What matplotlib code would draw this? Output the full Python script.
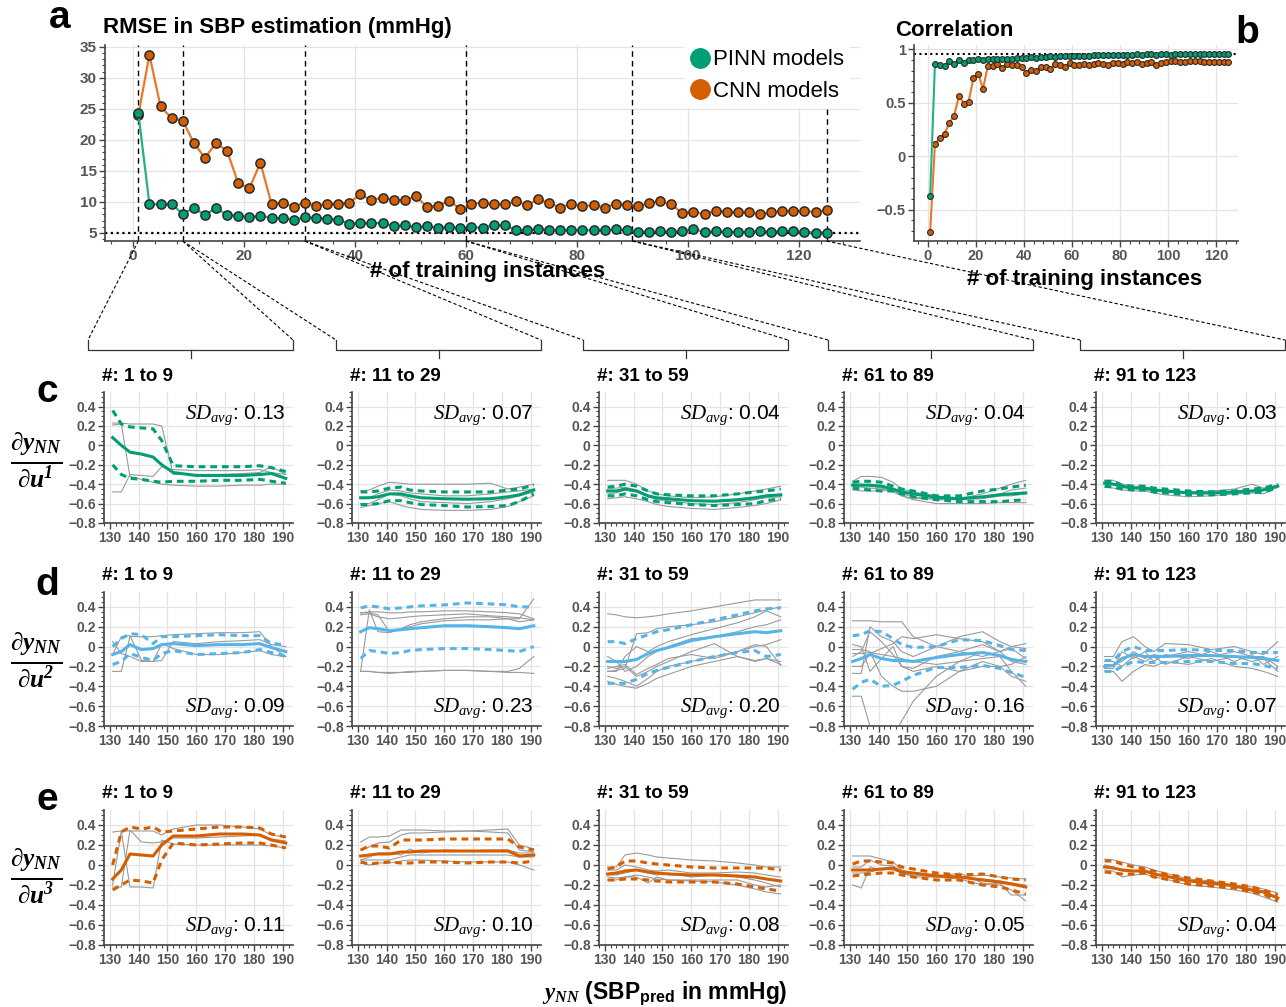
import matplotlib
matplotlib.use("Agg")
import matplotlib.pyplot as plt
import matplotlib.ticker as mticker
from matplotlib.lines import Line2D

plt.rcParams.update({
    "font.family":      ["Liberation Sans", "DejaVu Sans"],
    "mathtext.fontset": "custom",
    "mathtext.rm":      "Liberation Sans",
    "mathtext.it":      "Liberation Serif:italic",
    "mathtext.bf":      "Liberation Sans:bold",
    "mathtext.bfit":    "Liberation Serif:italic:bold",
    "axes.unicode_minus": True})

GREEN  = "#009E73"
ORANGE = "#D55E00"
BLUE   = "#56B4E9"
GRID   = "#e4e4e4"
TICKC  = "#555555"

# ---- panel a / b data (odd numbers of training instances) ----
N_TRAIN = list(range(1, 126, 2))
RMSE_PINN = [24.4, 9.65, 9.6, 9.6, 8.1, 9.0, 7.9, 9.0, 7.9, 7.8, 7.5, 7.8, 7.4, 7.4, 7.1, 7.5,
             7.4, 7.3, 7.1, 6.5, 6.6, 6.6, 6.6, 6.1, 6.2, 5.9, 6.1, 5.8, 6.0, 5.75, 5.9, 5.85,
             6.2, 6.2, 5.5, 5.4, 5.7, 5.4, 5.4, 5.4, 5.5, 5.4, 5.4, 5.6, 5.4, 5.2, 5.15, 5.25,
             5.2, 5.25, 5.6, 5.15, 5.25, 5.15, 5.15, 5.2, 5.25, 5.15, 5.3, 5.3, 5.2, 5.05, 5.05]
RMSE_CNN = [24.0, 33.7, 25.4, 23.5, 23.1, 19.5, 17.1, 19.5, 18.2, 13.0, 12.2, 16.3, 9.65, 9.9, 9.2, 9.9,
            9.4, 9.65, 9.65, 9.9, 11.2, 10.3, 10.7, 10.3, 10.3, 10.9, 9.2, 9.4, 10.2, 8.85, 9.65, 9.9,
            9.6, 9.6, 10.1, 9.5, 10.4, 9.8, 9.1, 9.7, 9.3, 9.5, 9.1, 9.7, 9.5, 9.3, 9.8, 10.1,
            9.6, 8.2, 8.4, 8.0, 8.6, 8.4, 8.3, 8.3, 8.0, 8.3, 8.6, 8.5, 8.6, 8.3, 8.7]
CORR_PINN = [-0.37, 0.86, 0.855, 0.84, 0.89, 0.86, 0.895, 0.87, 0.90, 0.895, 0.905, 0.90, 0.905, 0.91, 0.905, 0.91,
             0.905, 0.91, 0.92, 0.915, 0.92, 0.925, 0.92, 0.93, 0.93, 0.935, 0.93, 0.94, 0.935, 0.94, 0.94, 0.935,
             0.94, 0.935, 0.945, 0.95, 0.945, 0.95, 0.95, 0.945, 0.95, 0.95, 0.95, 0.955, 0.95, 0.955, 0.955, 0.95,
             0.955, 0.955, 0.95, 0.955, 0.955, 0.955, 0.955, 0.955, 0.955, 0.955, 0.955, 0.955, 0.955, 0.955, 0.955]
CORR_CNN = [-0.713, 0.11, 0.17, 0.21, 0.31, 0.38, 0.567, 0.49, 0.51, 0.73, 0.77, 0.63, 0.847, 0.847, 0.866, 0.826,
            0.86, 0.85, 0.853, 0.835, 0.78, 0.81, 0.80, 0.83, 0.83, 0.816, 0.86, 0.853, 0.83, 0.87, 0.85, 0.85,
            0.86, 0.85, 0.86, 0.87, 0.86, 0.85, 0.87, 0.87, 0.86, 0.88, 0.87, 0.88, 0.86, 0.87, 0.88, 0.85,
            0.87, 0.88, 0.89, 0.89, 0.88, 0.885, 0.89, 0.89, 0.89, 0.885, 0.88, 0.88, 0.88, 0.88, 0.88]
RMSE_REF = 5
CORR_REF = 0.96
BOUNDS = [1, 9, 31, 60, 90, 125]
GROUPS = ["1 to 9", "11 to 29", "31 to 59", "61 to 89", "91 to 123"]

# ---- sensitivity panels: x grid (predicted SBP) ----
SBP = [131, 134, 137, 141, 145, 148, 152, 160, 168, 176, 182, 186, 191]

# dy/du1 (PINN)
U1_MEAN = [
    [0.08, 0.0, -0.07, -0.09, -0.12, -0.20, -0.28, -0.31, -0.31, -0.31, -0.30, -0.29, -0.34],
    [-0.54, -0.54, -0.53, -0.50, -0.50, -0.52, -0.54, -0.55, -0.555, -0.55, -0.53, -0.51, -0.46],
    [-0.47, -0.47, -0.45, -0.47, -0.52, -0.54, -0.55, -0.57, -0.575, -0.56, -0.54, -0.52, -0.51],
    [-0.41, -0.41, -0.41, -0.42, -0.45, -0.48, -0.50, -0.535, -0.55, -0.53, -0.51, -0.50, -0.49],
    [-0.39, -0.40, -0.42, -0.44, -0.44, -0.46, -0.47, -0.49, -0.49, -0.48, -0.47, -0.46, -0.42]]
U1_HI = [
    [0.36, 0.22, 0.19, 0.18, 0.17, 0.05, -0.21, -0.22, -0.22, -0.22, -0.21, -0.23, -0.27],
    [-0.48, -0.48, -0.47, -0.44, -0.43, -0.46, -0.47, -0.48, -0.48, -0.48, -0.46, -0.45, -0.41],
    [-0.43, -0.42, -0.40, -0.42, -0.47, -0.50, -0.51, -0.52, -0.52, -0.50, -0.48, -0.47, -0.45],
    [-0.38, -0.37, -0.37, -0.38, -0.42, -0.45, -0.47, -0.52, -0.52, -0.47, -0.45, -0.43, -0.41],
    [-0.37, -0.37, -0.41, -0.42, -0.42, -0.44, -0.45, -0.47, -0.48, -0.47, -0.45, -0.44, -0.40]]
U1_LO = [
    [-0.20, -0.30, -0.34, -0.35, -0.37, -0.38, -0.37, -0.37, -0.36, -0.36, -0.35, -0.37, -0.39],
    [-0.61, -0.61, -0.60, -0.57, -0.57, -0.59, -0.61, -0.62, -0.635, -0.63, -0.62, -0.58, -0.50],
    [-0.52, -0.52, -0.50, -0.52, -0.56, -0.58, -0.59, -0.61, -0.62, -0.61, -0.60, -0.57, -0.55],
    [-0.44, -0.45, -0.46, -0.47, -0.47, -0.50, -0.53, -0.56, -0.58, -0.58, -0.58, -0.57, -0.56],
    [-0.42, -0.43, -0.45, -0.46, -0.46, -0.48, -0.49, -0.51, -0.51, -0.50, -0.49, -0.48, -0.44]]
U1_GREY = [
    [[0.23, 0.23, 0.22, 0.22, 0.22, 0.20, -0.30, -0.30, -0.30, -0.29, -0.28, -0.22, -0.30],
     [-0.48, -0.48, -0.30, -0.31, -0.32, -0.22, -0.25, -0.26, -0.26, -0.26, -0.25, -0.28, -0.30],
     [0.21, 0.22, -0.32, -0.35, -0.38, -0.40, -0.41, -0.42, -0.42, -0.41, -0.41, -0.40, -0.40]],
    [[-0.47, -0.46, -0.42, -0.38, -0.39, -0.40, -0.40, -0.40, -0.40, -0.39, -0.45, -0.43, -0.40],
     [-0.60, -0.60, -0.56, -0.50, -0.52, -0.55, -0.58, -0.59, -0.60, -0.58, -0.55, -0.52, -0.48],
     [-0.64, -0.62, -0.60, -0.58, -0.62, -0.64, -0.66, -0.67, -0.67, -0.66, -0.63, -0.58, -0.52],
     [-0.55, -0.54, -0.50, -0.46, -0.47, -0.49, -0.50, -0.52, -0.52, -0.50, -0.48, -0.47, -0.45]],
    [[-0.36, -0.36, -0.36, -0.40, -0.47, -0.50, -0.52, -0.54, -0.53, -0.50, -0.47, -0.45, -0.42],
     [-0.55, -0.54, -0.53, -0.55, -0.58, -0.61, -0.63, -0.65, -0.66, -0.64, -0.62, -0.60, -0.56],
     [-0.45, -0.44, -0.43, -0.46, -0.52, -0.55, -0.56, -0.57, -0.58, -0.57, -0.55, -0.53, -0.50],
     [-0.50, -0.49, -0.46, -0.48, -0.53, -0.56, -0.57, -0.60, -0.61, -0.59, -0.56, -0.54, -0.53]],
    [[-0.37, -0.32, -0.32, -0.33, -0.38, -0.45, -0.48, -0.52, -0.55, -0.50, -0.44, -0.40, -0.36],
     [-0.46, -0.47, -0.47, -0.47, -0.46, -0.52, -0.56, -0.60, -0.60, -0.60, -0.59, -0.59, -0.59],
     [-0.40, -0.40, -0.42, -0.44, -0.47, -0.50, -0.53, -0.56, -0.56, -0.53, -0.50, -0.46, -0.44],
     [-0.42, -0.43, -0.44, -0.45, -0.48, -0.52, -0.55, -0.55, -0.56, -0.55, -0.52, -0.52, -0.50]],
    [[-0.36, -0.36, -0.40, -0.42, -0.43, -0.45, -0.46, -0.48, -0.47, -0.45, -0.40, -0.44, -0.41],
     [-0.43, -0.44, -0.46, -0.47, -0.47, -0.49, -0.51, -0.53, -0.52, -0.50, -0.49, -0.50, -0.43],
     [-0.38, -0.39, -0.44, -0.44, -0.46, -0.46, -0.48, -0.49, -0.50, -0.49, -0.47, -0.45, -0.42]]]
U1_SD = [0.13, 0.07, 0.04, 0.04, 0.03]

# dy/du2 (PINN)
U2_MEAN = [
    [-0.08, -0.05, 0.02, -0.03, -0.02, 0.02, 0.03, 0.01, 0.02, 0.02, 0.03, -0.01, -0.05],
    [0.15, 0.19, 0.18, 0.16, 0.17, 0.18, 0.19, 0.21, 0.21, 0.20, 0.19, 0.18, 0.21],
    [-0.15, -0.15, -0.15, -0.13, -0.07, -0.04, -0.01, 0.06, 0.10, 0.13, 0.15, 0.14, 0.16],
    [-0.15, -0.12, -0.08, -0.12, -0.14, -0.14, -0.15, -0.11, -0.08, -0.06, -0.09, -0.13, -0.15],
    [-0.20, -0.19, -0.12, -0.08, -0.10, -0.10, -0.10, -0.09, -0.09, -0.10, -0.11, -0.12, -0.14]]
U2_HI = [
    [0.0, 0.08, 0.13, 0.12, 0.03, 0.10, 0.10, 0.11, 0.12, 0.11, 0.11, 0.03, 0.02],
    [0.39, 0.41, 0.40, 0.38, 0.39, 0.40, 0.41, 0.42, 0.44, 0.43, 0.42, 0.40, 0.40],
    [0.05, 0.05, 0.03, 0.08, 0.12, 0.15, 0.17, 0.22, 0.27, 0.32, 0.36, 0.38, 0.39],
    [0.11, 0.12, 0.16, 0.15, 0.08, 0.02, -0.01, 0.0, 0.07, 0.06, 0.01, -0.03, -0.04],
    [-0.14, -0.14, -0.05, 0.0, -0.04, -0.04, -0.04, -0.03, -0.04, -0.04, -0.06, -0.06, -0.06]]
U2_LO = [
    [-0.18, -0.15, -0.07, -0.11, -0.14, -0.07, -0.04, -0.08, -0.07, -0.06, -0.03, -0.06, -0.10],
    [-0.12, -0.04, -0.05, -0.07, -0.06, -0.04, -0.03, -0.02, -0.02, -0.03, -0.04, -0.05, 0.0],
    [-0.37, -0.37, -0.37, -0.33, -0.27, -0.24, -0.21, -0.15, -0.10, -0.06, -0.04, -0.10, -0.08],
    [-0.43, -0.36, -0.33, -0.40, -0.39, -0.35, -0.29, -0.21, -0.21, -0.19, -0.22, -0.26, -0.31],
    [-0.25, -0.25, -0.20, -0.15, -0.16, -0.16, -0.16, -0.15, -0.15, -0.17, -0.17, -0.19, -0.22]]
U2_GREY = [
    [[-0.25, -0.25, 0.10, 0.10, 0.10, 0.11, 0.12, 0.13, 0.14, 0.14, 0.15, 0.0, -0.10],
     [-0.08, 0.10, 0.11, -0.14, -0.15, -0.14, 0.05, 0.03, 0.05, 0.06, 0.07, 0.02, 0.0],
     [0.05, -0.07, -0.10, -0.15, -0.15, 0.03, -0.02, -0.08, -0.08, -0.06, -0.04, -0.08, -0.10]],
    [[0.34, 0.35, 0.35, 0.34, 0.34, 0.35, 0.35, 0.36, 0.36, 0.35, 0.34, 0.33, 0.28],
     [-0.25, -0.25, -0.26, -0.27, -0.26, -0.26, -0.25, -0.24, -0.24, -0.25, -0.26, -0.26, -0.27],
     [-0.25, 0.37, 0.15, 0.14, 0.18, 0.22, 0.25, 0.28, 0.30, 0.30, 0.28, 0.25, 0.27],
     [0.32, 0.33, 0.30, 0.28, 0.29, 0.30, 0.31, 0.32, 0.33, 0.31, 0.30, 0.29, 0.27],
     [0.34, 0.34, 0.32, 0.15, 0.18, 0.20, 0.23, 0.26, 0.27, 0.27, 0.28, 0.28, 0.48],
     [-0.25, -0.25, -0.26, -0.26, -0.26, -0.25, -0.25, -0.24, -0.24, -0.25, -0.25, -0.22, -0.10]],
    [[0.33, 0.32, 0.30, 0.29, 0.30, 0.31, 0.33, 0.36, 0.40, 0.44, 0.47, 0.47, 0.47],
     [-0.25, -0.24, -0.22, 0.13, 0.14, 0.18, 0.20, 0.22, 0.25, 0.30, 0.34, 0.37, 0.40],
     [-0.30, -0.32, -0.35, -0.40, -0.32, -0.25, -0.20, -0.15, -0.10, -0.05, 0.0, 0.02, 0.07],
     [-0.20, -0.22, -0.20, -0.30, -0.25, -0.20, -0.15, -0.05, 0.03, -0.10, -0.14, -0.12, -0.18],
     [-0.25, -0.25, -0.10, 0.0, -0.05, 0.0, 0.05, 0.12, 0.18, 0.24, 0.30, 0.36, 0.30],
     [-0.35, -0.38, -0.40, -0.42, -0.37, -0.32, -0.28, -0.20, -0.15, -0.10, -0.15, -0.12, -0.15],
     [-0.10, -0.15, -0.25, -0.20, -0.10, -0.05, 0.0, 0.08, 0.10, 0.15, 0.20, 0.22, 0.27],
     [-0.22, -0.20, -0.18, -0.28, -0.22, -0.18, -0.12, -0.08, -0.12, -0.05, 0.02, 0.0, -0.19]],
    [[0.26, 0.26, 0.26, 0.25, 0.25, 0.25, 0.10, 0.0, -0.05, -0.10, -0.05, 0.0, 0.03],
     [-0.50, -0.50, -0.80, -0.90, -0.90, -0.75, -0.55, -0.30, -0.15, -0.05, -0.10, -0.25, -0.40],
     [-0.07, -0.07, -0.06, -0.08, -0.10, -0.12, -0.15, -0.18, -0.15, -0.12, -0.10, -0.12, -0.15],
     [-0.27, -0.27, 0.20, 0.10, 0.05, -0.05, -0.10, 0.0, 0.10, 0.15, 0.05, 0.0, -0.02],
     [-0.03, -0.03, -0.05, -0.30, -0.40, -0.45, -0.45, -0.40, -0.25, -0.15, -0.20, -0.30, -0.35],
     [-0.10, -0.05, 0.15, 0.05, -0.08, -0.20, -0.22, -0.10, -0.05, 0.02, -0.05, -0.15, -0.18],
     [0.02, 0.0, -0.25, -0.12, 0.0, -0.20, -0.25, -0.20, -0.25, -0.20, -0.20, -0.18, -0.10],
     [-0.20, -0.20, -0.07, -0.02, 0.03, 0.10, 0.08, 0.12, 0.08, 0.05, -0.05, -0.02, -0.12]],
    [[-0.10, -0.10, 0.05, 0.10, 0.0, -0.05, 0.03, 0.02, -0.03, 0.0, -0.05, -0.08, 0.05],
     [-0.25, -0.25, -0.35, -0.25, -0.18, -0.20, -0.15, -0.18, -0.12, -0.20, -0.22, -0.25, -0.30],
     [-0.18, -0.18, -0.15, -0.05, -0.12, -0.08, -0.10, -0.05, -0.10, -0.05, -0.10, -0.10, -0.20],
     [-0.22, -0.22, -0.05, -0.12, -0.05, -0.15, -0.08, -0.12, -0.05, -0.15, -0.08, -0.18, -0.10],
     [-0.15, -0.15, -0.20, -0.10, -0.15, -0.10, -0.18, -0.10, -0.15, -0.10, -0.15, -0.12, -0.25]]]
U2_SD = [0.09, 0.23, 0.20, 0.16, 0.07]

# dy/du3 (CNN)
U3_MEAN = [
    [-0.14, -0.05, 0.11, 0.10, 0.09, 0.20, 0.29, 0.29, 0.31, 0.31, 0.30, 0.25, 0.22],
    [0.09, 0.10, 0.11, 0.11, 0.13, 0.13, 0.14, 0.14, 0.14, 0.14, 0.14, 0.09, 0.10],
    [-0.09, -0.08, -0.06, -0.05, -0.07, -0.08, -0.09, -0.10, -0.10, -0.11, -0.12, -0.14, -0.16],
    [-0.05, -0.05, -0.05, -0.04, -0.03, -0.07, -0.08, -0.11, -0.12, -0.15, -0.17, -0.19, -0.22],
    [-0.02, -0.03, -0.05, -0.06, -0.06, -0.09, -0.11, -0.16, -0.18, -0.21, -0.25, -0.27, -0.33]]
U3_HI = [
    [0.0, 0.33, 0.38, 0.36, 0.38, 0.33, 0.34, 0.36, 0.38, 0.38, 0.37, 0.31, 0.28],
    [0.15, 0.19, 0.19, 0.17, 0.25, 0.25, 0.25, 0.26, 0.26, 0.26, 0.26, 0.18, 0.15],
    [-0.04, -0.02, 0.04, 0.04, 0.02, 0.01, 0.0, -0.02, -0.03, -0.03, -0.03, -0.03, -0.05],
    [0.01, 0.04, 0.04, 0.03, 0.02, -0.02, -0.04, -0.08, -0.10, -0.09, -0.12, -0.14, -0.15],
    [0.04, 0.04, 0.01, -0.02, -0.04, -0.06, -0.09, -0.13, -0.16, -0.19, -0.22, -0.25, -0.30]]
U3_LO = [
    [-0.25, -0.20, -0.15, -0.16, -0.18, 0.05, 0.22, 0.20, 0.21, 0.22, 0.22, 0.20, 0.17],
    [0.03, 0.01, 0.02, 0.03, 0.02, 0.02, 0.03, 0.03, 0.02, 0.03, 0.03, 0.02, 0.04],
    [-0.15, -0.15, -0.14, -0.14, -0.15, -0.16, -0.17, -0.17, -0.17, -0.19, -0.22, -0.24, -0.26],
    [-0.11, -0.10, -0.09, -0.08, -0.08, -0.10, -0.12, -0.15, -0.15, -0.20, -0.22, -0.25, -0.29],
    [-0.07, -0.08, -0.09, -0.09, -0.08, -0.12, -0.14, -0.19, -0.21, -0.23, -0.27, -0.29, -0.36]]
U3_GREY = [
    [[-0.20, 0.34, 0.34, 0.34, 0.34, 0.30, 0.36, 0.40, 0.40, 0.38, 0.36, 0.30, 0.28],
     [-0.22, -0.22, 0.35, 0.23, 0.22, 0.23, 0.27, 0.27, 0.28, 0.29, 0.30, 0.26, 0.24],
     [0.33, 0.34, -0.22, -0.22, -0.23, 0.25, 0.21, 0.20, 0.20, 0.20, 0.20, 0.19, 0.17]],
    [[0.23, 0.28, 0.28, 0.29, 0.35, 0.35, 0.35, 0.34, 0.34, 0.35, 0.36, 0.20, 0.16],
     [0.05, 0.05, 0.05, 0.05, 0.08, 0.10, 0.10, 0.10, 0.10, 0.10, 0.10, 0.08, 0.08],
     [0.05, 0.08, 0.12, 0.12, 0.10, 0.16, 0.12, 0.15, 0.14, 0.15, 0.15, 0.12, 0.12],
     [0.02, 0.0, 0.02, 0.02, 0.04, 0.05, 0.05, 0.04, 0.03, 0.03, 0.03, 0.0, -0.05],
     [0.15, 0.18, 0.22, 0.23, 0.30, 0.32, 0.32, 0.33, 0.34, 0.33, 0.32, 0.15, 0.13]],
    [[-0.02, -0.02, 0.10, 0.12, 0.10, 0.08, 0.07, 0.05, 0.04, 0.02, 0.0, -0.02, -0.02],
     [-0.12, -0.13, -0.12, -0.10, -0.12, -0.14, -0.15, -0.16, -0.17, -0.20, -0.24, -0.27, -0.29],
     [-0.05, -0.05, 0.0, -0.02, -0.05, -0.06, -0.05, -0.08, -0.08, -0.07, -0.08, -0.10, -0.12],
     [-0.15, -0.15, -0.12, -0.12, -0.18, -0.12, -0.15, -0.15, -0.15, -0.15, -0.20, -0.22, -0.20],
     [-0.10, -0.10, -0.08, -0.05, -0.08, -0.10, -0.08, -0.12, -0.10, -0.12, -0.15, -0.18, -0.22]],
    [[0.09, 0.09, 0.09, 0.06, 0.03, -0.05, -0.08, -0.10, -0.12, -0.10, -0.12, -0.13, -0.14],
     [-0.20, -0.23, -0.02, -0.05, -0.04, -0.08, -0.12, -0.12, -0.08, -0.18, -0.20, -0.25, -0.36],
     [-0.08, -0.08, -0.07, -0.04, -0.05, -0.08, -0.10, -0.12, -0.14, -0.20, -0.18, -0.30, -0.30],
     [-0.02, -0.02, 0.05, 0.0, -0.01, -0.06, -0.08, -0.10, -0.12, -0.14, -0.16, -0.18, -0.20]],
    [[0.06, 0.05, 0.03, 0.0, -0.02, -0.05, -0.08, -0.14, -0.16, -0.20, -0.22, -0.24, -0.28],
     [-0.05, -0.06, -0.12, -0.10, -0.09, -0.12, -0.14, -0.20, -0.22, -0.25, -0.28, -0.32, -0.37],
     [0.0, -0.02, -0.06, -0.06, -0.06, -0.09, -0.11, -0.16, -0.20, -0.20, -0.26, -0.26, -0.34]]]
U3_SD = [0.11, 0.10, 0.08, 0.05, 0.04]


def num_fmt(v, pos):
    if abs(v) < 1e-9:
        return "0"
    return f"{v:g}".replace("-", "\u2212")


def style_axes(ax, labelsize):
    for side in ("top", "right"):
        ax.spines[side].set_visible(False)
    for side in ("left", "bottom"):
        ax.spines[side].set_color("#444444")
        ax.spines[side].set_linewidth(1.2)
    ax.grid(True, which="major", color=GRID, linewidth=0.9)
    ax.set_axisbelow(True)
    ax.tick_params(which="major", length=4, width=1, color="#444444",
                   labelcolor=TICKC, labelsize=labelsize, pad=2)
    ax.tick_params(which="minor", length=2.5, width=0.8, color="#444444")
    for lbl in ax.get_xticklabels() + ax.get_yticklabels():
        lbl.set_fontweight("bold")


W, H = 1286, 1007
fig = plt.figure(figsize=(W / 100, H / 100), dpi=100)


def px_box(left, top, right, bottom):
    return [left / W, 1 - bottom / H, (right - left) / W, (bottom - top) / H]


# ---------------- panel a ----------------
ax_a = fig.add_axes(px_box(105, 45, 860, 241))
ax_a.plot(N_TRAIN, RMSE_CNN, color="#E8772A", lw=1.6, marker="o", ms=6.6,
          mfc=ORANGE, mec="#2a2a2a", mew=1.1, zorder=3)
ax_a.plot(N_TRAIN, RMSE_PINN, color="#22B08A", lw=1.6, marker="o", ms=6.6,
          mfc=GREEN, mec="#2a2a2a", mew=1.1, zorder=4)
ax_a.axhline(RMSE_REF, color="black", lw=1.6, ls=(0, (1, 1.6)), zorder=2)
for b in BOUNDS:
    ax_a.axvline(b, color="black", lw=1.0, ls=(0, (4, 3)), zorder=2)
ax_a.set_xlim(-5, 131)
ax_a.set_ylim(3.7, 35.3)
ax_a.xaxis.set_major_locator(mticker.MultipleLocator(20))
ax_a.xaxis.set_minor_locator(mticker.MultipleLocator(4))
ax_a.set_yticks([5, 10, 15, 20, 25, 30, 35])
ax_a.yaxis.set_minor_locator(mticker.MultipleLocator(1))
style_axes(ax_a, 11)
handles = [Line2D([], [], ls="", marker="o", ms=14, color=GREEN),
           Line2D([], [], ls="", marker="o", ms=14, color=ORANGE)]
leg = ax_a.legend(handles, ["PINN models", "CNN models"], loc="upper right",
                  bbox_to_anchor=(0.985, 1.0), frameon=True, framealpha=1,
                  edgecolor="white", fontsize=16, handletextpad=0.1,
                  borderaxespad=0, borderpad=0.2, labelspacing=0.48, handlelength=1.0)
leg.set_zorder(10)
fig.text(103 / W, 1 - 27 / H, "RMSE in SBP estimation (mmHg)", fontsize=16,
         fontweight="bold", va="center", ha="left")
fig.text(488 / W, 1 - 272 / H, "# of training instances", fontsize=16,
         fontweight="bold", va="center", ha="center")
fig.text(60 / W, 1 - 18 / H, "a", fontsize=28, fontweight="bold", va="center", ha="center")

# ---------------- panel b ----------------
ax_b = fig.add_axes(px_box(914, 45, 1238, 241))
ax_b.plot(N_TRAIN, CORR_CNN, color="#E8772A", lw=1.5, marker="o", ms=4.2,
          mfc=ORANGE, mec="#2a2a2a", mew=0.8, zorder=3)
ax_b.plot(N_TRAIN, CORR_PINN, color="#22B08A", lw=1.5, marker="o", ms=4.2,
          mfc=GREEN, mec="#2a2a2a", mew=0.8, zorder=4)
ax_b.axhline(CORR_REF, color="black", lw=1.5, ls=(0, (1, 1.6)), zorder=2)
ax_b.set_xlim(-5.7, 129)
ax_b.set_ylim(-0.794, 1.04)
ax_b.xaxis.set_major_locator(mticker.MultipleLocator(20))
ax_b.xaxis.set_minor_locator(mticker.MultipleLocator(4))
ax_b.set_yticks([-0.5, 0, 0.5, 1])
ax_b.yaxis.set_minor_locator(mticker.MultipleLocator(0.1))
ax_b.yaxis.set_major_formatter(mticker.FuncFormatter(num_fmt))
style_axes(ax_b, 10.5)
fig.text(895 / W, 1 - 30 / H, "Correlation", fontsize=16, fontweight="bold",
         va="center", ha="left")
fig.text(1085 / W, 1 - 280 / H, "# of training instances", fontsize=16,
         fontweight="bold", va="center", ha="center")
fig.text(1247 / W, 1 - 33 / H, "b", fontsize=28, fontweight="bold", va="center", ha="center")

# ---------------- panels c, d, e ----------------
COL_LEFT = [104, 352, 599, 844, 1096]
AX_W = 189
ROW_BOX = [(392, 523), (592, 726), (810, 945)]
ROWS = [
    (U1_MEAN, U1_HI, U1_LO, U1_GREY, U1_SD, GREEN, "1", "c"),
    (U2_MEAN, U2_HI, U2_LO, U2_GREY, U2_SD, BLUE, "2", "d"),
    (U3_MEAN, U3_HI, U3_LO, U3_GREY, U3_SD, ORANGE, "3", "e")]
LABEL_Y = [460, 660, 876]
LETTER_Y = [392, 585, 800]

for r, (means, his, los, greys, sds, color, sup, letter) in enumerate(ROWS):
    top, bottom = ROW_BOX[r]
    for c in range(5):
        ax = fig.add_axes(px_box(COL_LEFT[c], top, COL_LEFT[c] + AX_W, bottom))
        for g in greys[c]:
            ax.plot(SBP, g, color="#9a9a9a", lw=0.8, zorder=2)
        ax.plot(SBP, his[c], color=color, lw=2.2, ls=(0, (2.2, 1.6)), zorder=3)
        ax.plot(SBP, los[c], color=color, lw=2.2, ls=(0, (2.2, 1.6)), zorder=3)
        ax.plot(SBP, means[c], color=color, lw=2.2, zorder=4)
        ax.set_xlim(128, 193.5)
        ax.set_ylim(-0.8, 0.55)
        ax.set_xticks(range(130, 191, 10))
        ax.xaxis.set_minor_locator(mticker.MultipleLocator(2))
        ax.set_yticks([-0.8, -0.6, -0.4, -0.2, 0, 0.2, 0.4])
        ax.yaxis.set_minor_locator(mticker.MultipleLocator(0.05))
        ax.yaxis.set_major_formatter(mticker.FuncFormatter(num_fmt))
        style_axes(ax, 10)
        sd_y = 0.82 if r == 0 else 0.13
        ax.text(0.96, sd_y, "$SD_{avg}$: " + f"{sds[c]:.2f}", transform=ax.transAxes,
                ha="right", va="center", fontsize=15, zorder=6)
        ax.text(-0.01, 1.12, "#: " + GROUPS[c], transform=ax.transAxes,
                ha="left", va="center", fontsize=13.5, fontweight="bold")
    fig.text(36 / W, 1 - LABEL_Y[r] / H,
             r"$\mathbfit{\frac{\partial y_{NN}}{\partial u^{" + sup + r"}}}$",
             fontsize=26, ha="center", va="center")
    fig.text(47 / W, 1 - LETTER_Y[r] / H, letter, fontsize=28, fontweight="bold",
             ha="center", va="center")

fig.text(665 / W, 1 - 993 / H, r"$\mathbfit{y_{NN}}$ (SBP$_{\mathbf{pred}}$ in mmHg)",
         fontsize=16.5, fontweight="bold", ha="center", va="center")

# ---------------- zoom connectors and brackets ----------------
to_fig = fig.transFigure.inverted()
y_axis_bottom = ax_a.get_ylim()[0]
starts = [to_fig.transform(ax_a.transData.transform((b, y_axis_bottom))) for b in BOUNDS]
br_top, br_mid, br_tip = 1 - 340 / H, 1 - 350 / H, 1 - 358 / H
for c in range(5):
    x0 = (COL_LEFT[c] - 16) / W
    x1 = (COL_LEFT[c] + 189) / W
    xc = (x0 + x1) / 2
    fig.add_artist(Line2D([x0, x0, x1, x1], [br_top, br_mid, br_mid, br_top],
                          color="#333333", lw=0.9, transform=fig.transFigure))
    fig.add_artist(Line2D([xc, xc], [br_mid, br_tip], color="#333333", lw=0.9,
                          transform=fig.transFigure))
    for (sx, sy), ex in ((starts[c], x0), (starts[c + 1], x1)):
        fig.add_artist(Line2D([sx, ex], [sy, br_top], color="black", lw=0.8,
                              ls=(0, (3, 2)), transform=fig.transFigure))

fig.savefig("out.png", dpi=100)
